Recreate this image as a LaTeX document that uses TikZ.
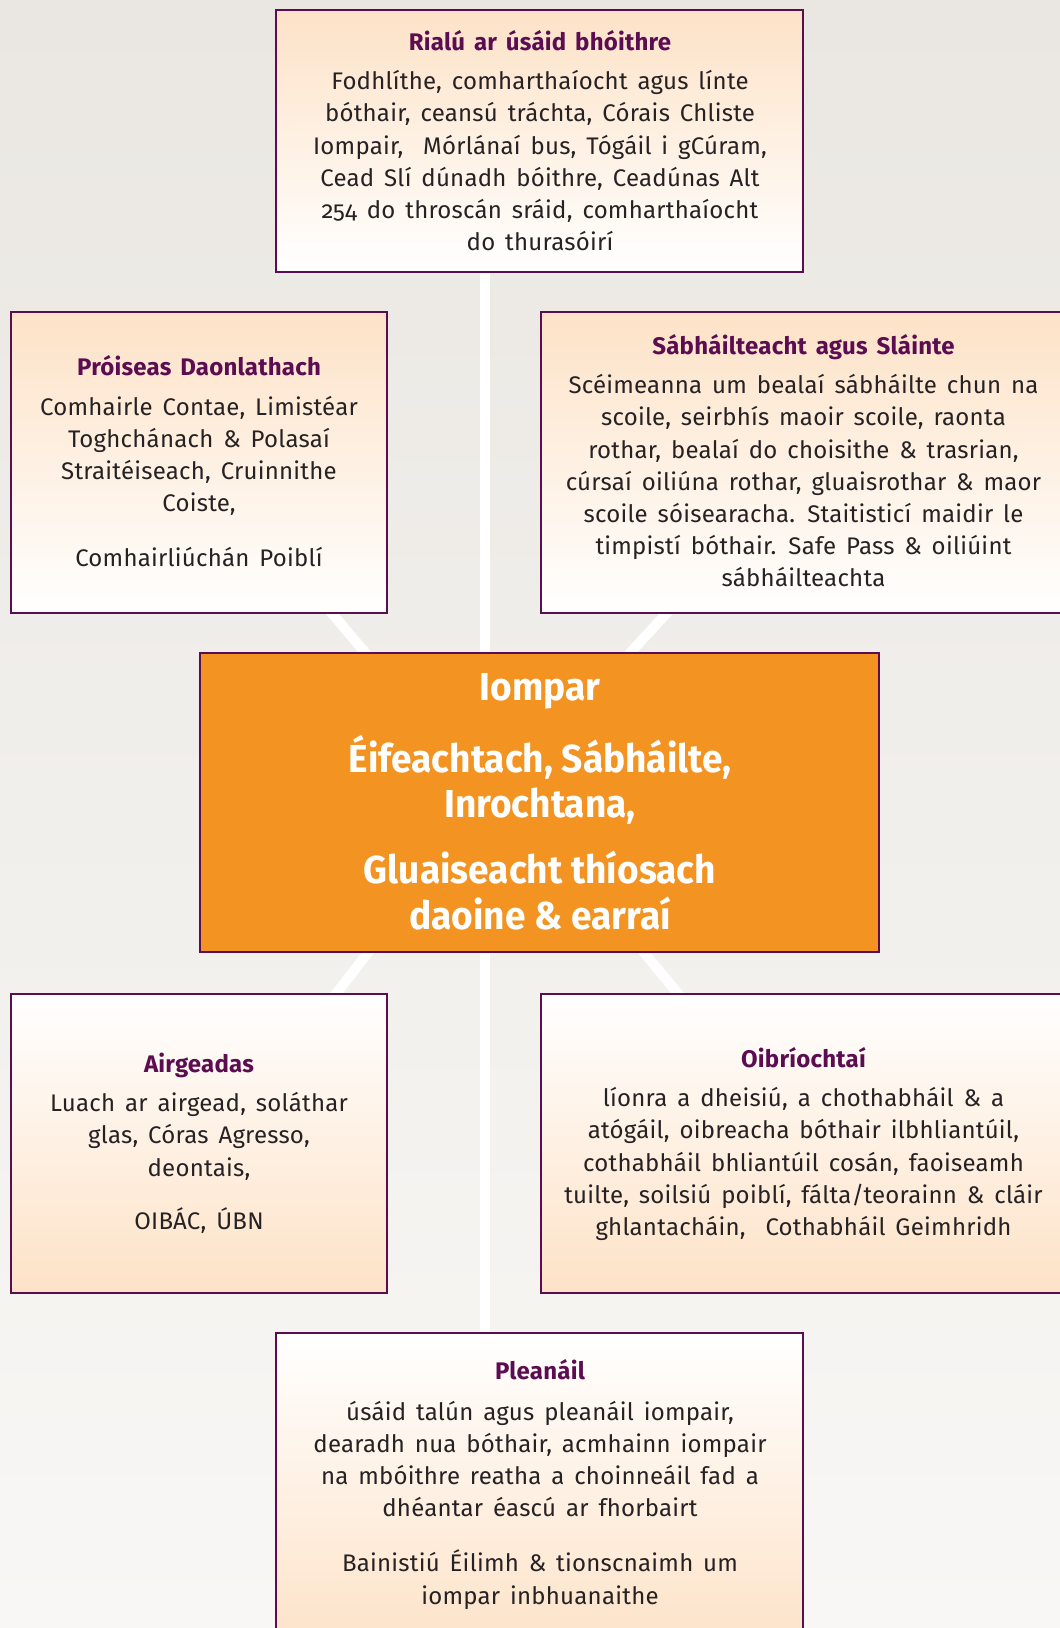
\documentclass[tikz,border=0pt]{standalone}
\usepackage{fontspec}
\setmainfont{Fira Sans}[Numbers=OldStyle,LetterSpace=1,WordSpace=1.5]
\newfontfamily\condfont{Fira Sans}[FakeStretch=0.95]
\definecolor{pur}{RGB}{92,12,80}
\definecolor{peach}{RGB}{253,226,199}
\definecolor{orng}{RGB}{243,147,33}
\definecolor{txt}{RGB}{38,34,36}
\definecolor{bgtop}{RGB}{234,231,226}
\definecolor{bgbot}{RGB}{248,247,245}
\newcommand{\ttl}[1]{\strut{\bfseries\color{pur}#1}}
\begin{document}
\begin{tikzpicture}[x=1pt,y=-1pt,
  boxdown/.style={draw=pur,line width=2.6pt,top color=peach,bottom color=white,inner sep=0pt},
  boxup/.style={draw=pur,line width=2.6pt,top color=white,bottom color=peach,inner sep=0pt},
  mainbox/.style={draw=pur,line width=2pt,fill=orng,inner sep=0pt},
  boxtext/.style={anchor=north,inner sep=0pt,align=center,text=txt,
     font=\fontsize{24}{32.2}\selectfont},
  maintext/.style={anchor=north,inner sep=0pt,align=center,text=white,
     font=\condfont\bfseries\fontsize{39}{45.7}\selectfont},
  road/.style={white,line width=10pt}]
\useasboundingbox (0,0) rectangle (1060,1628);
\clip (0,0) rectangle (1060,1628);
\fill[top color=bgtop,bottom color=bgbot] (0,0) rectangle (1060,1628);
% background white roads
\coordinate (vtop) at (485,272);
\coordinate (vbot) at (485,1333);
\coordinate (c1) at (491,802);
\coordinate (c2) at (493,802);
\coordinate (c3) at (485,802);
\coordinate (c4) at (520,802);
\coordinate (ul) at (282,554);
\coordinate (ur) at (721,554);
\coordinate (ll) at (290,1053);
\coordinate (lr) at (727,1053);
\draw[road] (vtop) -- (vbot);
\draw[road] (ul) -- (c1);
\draw[road] (ur) -- (c2);
\draw[road] (ll) -- (c3);
\draw[road] (lr) -- (c4);
% boxes
\node[boxdown,minimum width=527pt,minimum height=262pt] (rialu) at (539.5,141) {};
\node[boxdown,minimum width=376pt,minimum height=301pt] (proi) at (199,462.5) {};
\node[boxdown,minimum width=525pt,minimum height=301pt] (sabh) at (803.5,462.5) {};
\node[mainbox,minimum width=679pt,minimum height=299pt] (iomp) at (539.5,802.5) {};
\node[boxup,minimum width=376pt,minimum height=299pt] (airg) at (199,1143.5) {};
\node[boxup,minimum width=525pt,minimum height=299pt] (oibr) at (803.5,1143.5) {};
\node[boxup,minimum width=527pt,minimum height=320pt] (plea) at (539.5,1493) {};
% texts
\node[boxtext] (trialu) at (540,27.5) {\ttl{Rialú ar úsáid bhóithre}\\[7.3pt]
Fodhlíthe, comharthaíocht agus línte\\
bóthair, ceansú tráchta, Córais Chliste\\
Iompair,\ \ Mórlánaí bus, Tógáil i gCúram,\\
Cead Slí dúnadh bóithre, Ceadúnas Alt\\
254 do throscán sráid, comharthaíocht\\
do thurasóirí};
\node[boxtext] (tproi) at (199,353) {\ttl{Próiseas Daonlathach}\\[7.3pt]
Comhairle Contae, Limistéar\\
Toghchánach \& Polasaí\\
Straitéiseach, Cruinnithe\\
Coiste,\\[22.8pt]
Comhairliúchán Poiblí};
\node[boxtext] (tsabh) at (803.5,331.5) {\ttl{Sábháilteacht agus Sláinte}\\[7.3pt]
Scéimeanna um bealaí sábháilte chun na\\
scoile, seirbhís maoir scoile, raonta\\
rothar, bealaí do choisithe \& trasrian,\\
cúrsaí oiliúna rothar, gluaisrothar \& maor\\
scoile sóisearacha. Staitisticí maidir le\\
timpistí bóthair. Safe Pass \& oiliúint\\
sábháilteachta};
\node[maintext] (tiomp) at (540,668) {\strut Iompar\\[20pt]
Éifeachtach, Sábháilte,\\
Inrochtana,\\[20pt]
Gluaiseacht thíosach\\
daoine \& earraí};
\node[boxtext] (tairg) at (199,1049.5) {\ttl{Airgeadas}\\[7.3pt]
Luach ar airgead, soláthar\\
glas, Córas Agresso,\\
deontais,\\[21pt]
OIBÁC, ÚBN};
\node[boxtext] (toibr) at (803.5,1044.5) {\ttl{Oibríochtaí}\\[7.3pt]
líonra a dheisiú, a chothabháil \& a\\
atógáil, oibreacha bóthair ilbhliantúil,\\
cothabháil bhliantúil cosán, faoiseamh\\
tuilte, soilsiú poiblí, fálta/teorainn \& cláir\\
ghlantacháin,\ \ Cothabháil Geimhridh};
\node[boxtext] (tplea) at (540,1357) {\ttl{Pleanáil}\\[8.4pt]
úsáid talún agus pleanáil iompair,\\
dearadh nua bóthair, acmhainn iompair\\
na mbóithre reatha a choinneáil fad a\\
dhéantar éascú ar fhorbairt\\[22.8pt]
Bainistiú Éilimh \& tionscnaimh um\\
iompar inbhuanaithe};
\end{tikzpicture}
\end{document}
